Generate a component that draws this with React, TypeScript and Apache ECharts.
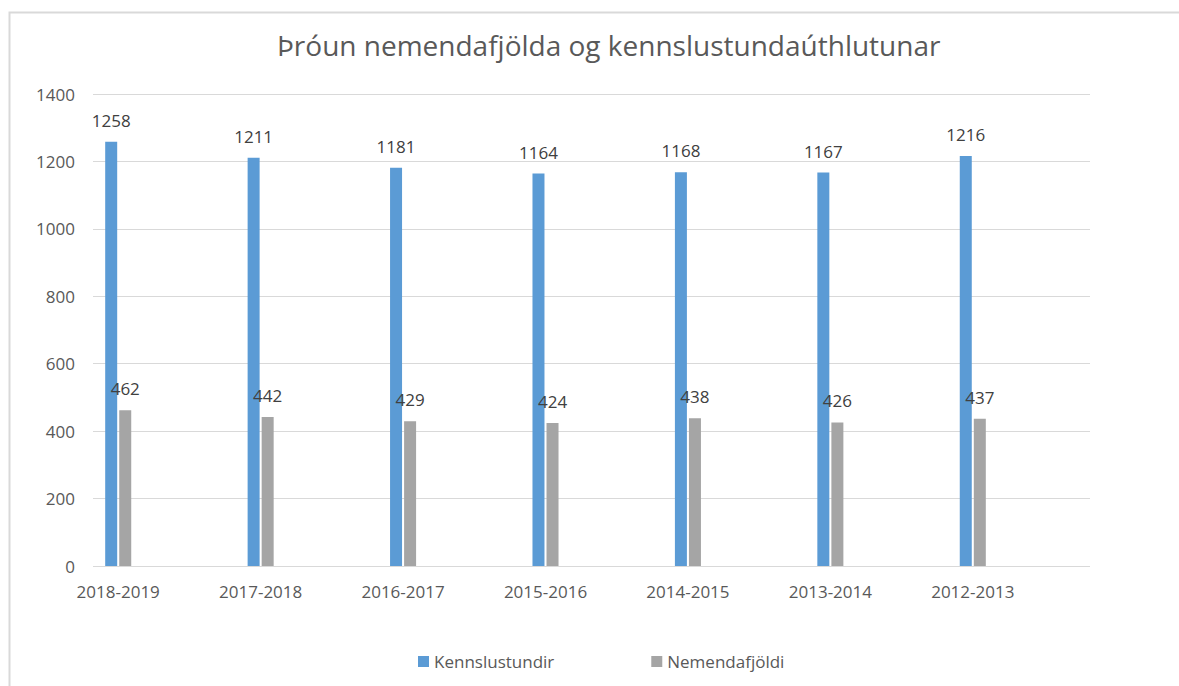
import React, { useEffect, useRef } from "react";
import * as echarts from "echarts";

const categories = ["2018-2019", "2017-2018", "2016-2017", "2015-2016", "2014-2015", "2013-2014", "2012-2013"];
const kennslustundir = [1258, 1211, 1181, 1164, 1168, 1167, 1216];
const nemendafjoldi = [462, 442, 429, 424, 438, 426, 437];
const yTicks = { min: 0, max: 1400, interval: 200 };
const titleText = "Þróun nemendafjölda og kennslustundaúthlutunar";
const seriesNames = ["Kennslustundir", "Nemendafjöldi"];

const FONT = "'Open Sans', 'Noto Sans', sans-serif";
const TXT = "#595959";

export default function App() {
  const ref = useRef<HTMLDivElement>(null);
  useEffect(() => {
    document.body.style.margin = "0";
    const chart = echarts.init(ref.current!, null, { renderer: "svg" });
    chart.setOption({
      animation: false,
      backgroundColor: "#ffffff",
      textStyle: { fontFamily: FONT },
      title: {
        text: titleText,
        left: 272,
        top: 26,
        textStyle: { fontFamily: FONT, fontSize: 28, fontWeight: "normal", color: TXT },
      },
      legend: {
        left: 413,
        top: 648,
        itemWidth: 11,
        itemHeight: 11,
        itemGap: 97,
        icon: "rect",
        textStyle: { fontFamily: FONT, fontSize: 17, color: TXT },
        data: seriesNames,
      },
      graphic: [
        {
          type: "polyline",
          shape: { points: [[9.5, 686], [9.5, 12.5], [1179, 12.5]] },
          style: { stroke: "#d9d9d9", lineWidth: 2, fill: "none" },
          silent: true,
        },
      ],
      grid: [
        { left: 93, right: 89, top: 94, bottom: 120 },
        { left: 47, right: 135, top: 94, bottom: 120 },
      ],
      xAxis: [
        {
          gridIndex: 0,
          type: "category",
          data: categories,
          axisLine: { show: false },
          axisTick: { show: false },
          axisLabel: { show: false },
        },
        {
          gridIndex: 1,
          type: "category",
          data: categories,
          axisLine: { show: false },
          axisTick: { show: false },
          axisLabel: { fontFamily: FONT, fontSize: 17, color: TXT, margin: 17 },
        },
      ],
      yAxis: [
        {
          gridIndex: 0,
          type: "value",
          min: yTicks.min,
          max: yTicks.max,
          interval: yTicks.interval,
          axisLine: { show: false },
          axisTick: { show: false },
          axisLabel: {
            fontFamily: FONT,
            fontSize: 17,
            color: TXT,
            margin: 18,
            formatter: (v: number) => String(v),
          },
          splitLine: { lineStyle: { color: "#d9d9d9", width: 1 } },
        },
        {
          gridIndex: 1,
          type: "value",
          min: yTicks.min,
          max: yTicks.max,
          interval: yTicks.interval,
          show: false,
          splitLine: { show: false },
        },
      ],
      series: [
        {
          name: seriesNames[0],
          type: "bar",
          xAxisIndex: 1,
          yAxisIndex: 1,
          data: kennslustundir,
          barWidth: 12,
          barGap: "17%",
          itemStyle: { color: "#5b9bd5" },
          label: { show: true, position: "top", distance: 13, fontFamily: FONT, fontSize: 17, color: "#404040" },
        },
        {
          name: seriesNames[1],
          type: "bar",
          xAxisIndex: 1,
          yAxisIndex: 1,
          data: nemendafjoldi,
          barWidth: 12,
          barGap: "17%",
          itemStyle: { color: "#a5a5a5" },
          label: { show: true, position: "top", distance: 13, fontFamily: FONT, fontSize: 17, color: "#404040" },
        },
      ],
    });
    return () => chart.dispose();
  }, []);
  return <div ref={ref} style={{ width: 1179, height: 686 }} />;
}
